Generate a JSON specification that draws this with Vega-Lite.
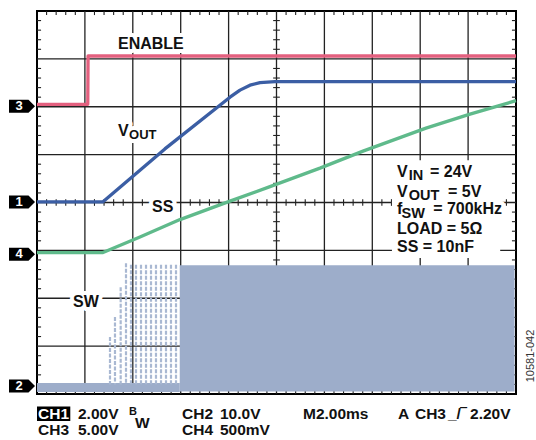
{
  "$schema": "https://vega.github.io/schema/vega-lite/v6.json",
  "width": 479,
  "height": 383,
  "autosize": {"type": "none"},
  "padding": {"left": 37, "top": 11, "right": 20, "bottom": 46},
  "background": "white",
  "config": {
    "view": {"stroke": "#000", "strokeWidth": 2},
    "axis": {"disable": true},
    "font": "Liberation Sans"
  },
  "datasets": {
    "vgrid": [{"x": 1}, {"x": 2}, {"x": 3}, {"x": 4}, {"x": 5}, {"x": 6}, {"x": 7}, {"x": 8}, {"x": 9}],
    "hgrid": [{"y": 1}, {"y": 2}, {"y": 3}, {"y": 4}, {"y": 5}, {"y": 6}, {"y": 7}],
    "xminor": [
      {"x": 0.2}, {"x": 0.4}, {"x": 0.6}, {"x": 0.8},
      {"x": 1.2}, {"x": 1.4}, {"x": 1.6}, {"x": 1.8},
      {"x": 2.2}, {"x": 2.4}, {"x": 2.6}, {"x": 2.8},
      {"x": 3.2}, {"x": 3.4}, {"x": 3.6}, {"x": 3.8},
      {"x": 4.2}, {"x": 4.4}, {"x": 4.6}, {"x": 4.8},
      {"x": 5.2}, {"x": 5.4}, {"x": 5.6}, {"x": 5.8},
      {"x": 6.2}, {"x": 6.4}, {"x": 6.6}, {"x": 6.8},
      {"x": 7.2}, {"x": 7.4}, {"x": 7.6}, {"x": 7.8},
      {"x": 8.2}, {"x": 8.4}, {"x": 8.6}, {"x": 8.8},
      {"x": 9.2}, {"x": 9.4}, {"x": 9.6}, {"x": 9.8}
    ],
    "yminor": [
      {"y": 0.2}, {"y": 0.4}, {"y": 0.6}, {"y": 0.8},
      {"y": 1.2}, {"y": 1.4}, {"y": 1.6}, {"y": 1.8},
      {"y": 2.2}, {"y": 2.4}, {"y": 2.6}, {"y": 2.8},
      {"y": 3.2}, {"y": 3.4}, {"y": 3.6}, {"y": 3.8},
      {"y": 4.2}, {"y": 4.4}, {"y": 4.6}, {"y": 4.8},
      {"y": 5.2}, {"y": 5.4}, {"y": 5.6}, {"y": 5.8},
      {"y": 6.2}, {"y": 6.4}, {"y": 6.6}, {"y": 6.8},
      {"y": 7.2}, {"y": 7.4}, {"y": 7.6}, {"y": 7.8}
    ],
    "swblocks": [
      {"x": 0.0, "x2": 2.98, "y": 0.04, "y2": 0.23},
      {"x": 2.98, "x2": 9.97, "y": 0.05, "y2": 2.69}
    ],
    "swlines": [
      {"x": 1.524, "y": 1.19}, {"x": 1.628, "y": 1.61}, {"x": 1.747, "y": 2.23},
      {"x": 1.858, "y": 2.73}, {"x": 1.962, "y": 2.70}, {"x": 2.067, "y": 2.70},
      {"x": 2.171, "y": 2.70}, {"x": 2.276, "y": 2.70}, {"x": 2.380, "y": 2.70},
      {"x": 2.484, "y": 2.70}, {"x": 2.589, "y": 2.70}, {"x": 2.693, "y": 2.70},
      {"x": 2.797, "y": 2.70}, {"x": 2.902, "y": 2.70}
    ],
    "traces": [
      {"ch": "ENABLE", "x": 0.0, "y": 6.05},
      {"ch": "ENABLE", "x": 1.06, "y": 6.05},
      {"ch": "ENABLE", "x": 1.066, "y": 7.06},
      {"ch": "ENABLE", "x": 10.0, "y": 7.06},
      {"ch": "VOUT", "x": 0.0, "y": 4.015},
      {"ch": "VOUT", "x": 1.378, "y": 4.015},
      {"ch": "VOUT", "x": 2.67, "y": 5.12},
      {"ch": "VOUT", "x": 4.029, "y": 6.2},
      {"ch": "VOUT", "x": 4.238, "y": 6.347},
      {"ch": "VOUT", "x": 4.447, "y": 6.451},
      {"ch": "VOUT", "x": 4.656, "y": 6.503},
      {"ch": "VOUT", "x": 4.969, "y": 6.524},
      {"ch": "VOUT", "x": 10.0, "y": 6.524},
      {"ch": "SS", "x": 0.0, "y": 2.954},
      {"ch": "SS", "x": 1.378, "y": 2.954},
      {"ch": "SS", "x": 2.15, "y": 3.278},
      {"ch": "SS", "x": 2.985, "y": 3.643},
      {"ch": "SS", "x": 4.029, "y": 4.029},
      {"ch": "SS", "x": 4.864, "y": 4.332},
      {"ch": "SS", "x": 5.908, "y": 4.718},
      {"ch": "SS", "x": 6.806, "y": 5.073},
      {"ch": "SS", "x": 8.121, "y": 5.553},
      {"ch": "SS", "x": 9.04, "y": 5.846},
      {"ch": "SS", "x": 10.0, "y": 6.127}
    ],
    "labels": [
      {"text": "ENABLE", "x": 1.691, "y": 7.203},
      {"text": "V", "x": 1.691, "y": 5.386},
      {"text": "SS", "x": 2.401, "y": 3.8},
      {"text": "SW", "x": 0.752, "y": 1.816},
      {"text": "V", "x": 7.516, "y": 4.524},
      {"text": "= 24V", "x": 8.205, "y": 4.524},
      {"text": "V", "x": 7.516, "y": 4.106},
      {"text": "= 5V", "x": 8.58, "y": 4.106},
      {"text": "f", "x": 7.516, "y": 3.77},
      {"text": "= 700kHz", "x": 8.27, "y": 3.77},
      {"text": "LOAD = 5Ω", "x": 7.516, "y": 3.34},
      {"text": "SS = 10nF", "x": 7.516, "y": 2.958}
    ],
    "subsplot": [
      {"text": "OUT", "x": 1.921, "y": 5.317}
    ],
    "subs": [
      {"text": "IN", "x": 7.76, "y": 4.46},
      {"text": "OUT", "x": 7.76, "y": 4.042},
      {"text": "SW", "x": 7.61, "y": 3.67}
    ],
    "bottom": [
      {"text": "2.00V", "x": 0.856, "y": -0.522},
      {"text": "CH2", "x": 3.027, "y": -0.522},
      {"text": "10.0V", "x": 3.82, "y": -0.522},
      {"text": "M2.00ms", "x": 5.553, "y": -0.522},
      {"text": "A", "x": 7.537, "y": -0.522},
      {"text": "CH3", "x": 7.891, "y": -0.522},
      {"text": "_/‾", "x": 8.58, "y": -0.522},
      {"text": "2.20V", "x": 9.04, "y": -0.522},
      {"text": "CH3", "x": 0.021, "y": -0.856},
      {"text": "5.00V", "x": 0.856, "y": -0.856},
      {"text": "CH4", "x": 3.027, "y": -0.856},
      {"text": "500mV", "x": 3.82, "y": -0.856},
      {"text": "W", "x": 2.046, "y": -0.71}
    ],
    "markers": [
      {"n": "3", "x": -0.313, "y": 6.01},
      {"n": "1", "x": -0.313, "y": 4.008},
      {"n": "4", "x": -0.313, "y": 2.92},
      {"n": "2", "x": -0.313, "y": 0.167}
    ]
  },
  "layer": [
    {
      "data": {"name": "vgrid"},
      "mark": {"type": "rule", "color": "#222", "strokeWidth": 1.3},
      "encoding": {
        "x": {"field": "x", "type": "quantitative", "scale": {"domain": [0, 10], "nice": false, "zero": false}},
        "y": {"datum": 0, "scale": {"domain": [0, 8], "nice": false, "zero": false}},
        "y2": {"datum": 8}
      }
    },
    {
      "data": {"name": "hgrid"},
      "mark": {"type": "rule", "color": "#222", "strokeWidth": 1.3},
      "encoding": {
        "y": {"field": "y", "type": "quantitative", "scale": {"domain": [0, 8], "nice": false, "zero": false}},
        "x": {"datum": 0, "scale": {"domain": [0, 10], "nice": false, "zero": false}},
        "x2": {"datum": 10}
      }
    },
    {
      "data": {"name": "xminor"},
      "mark": {"type": "rule", "color": "#222", "strokeWidth": 1.1},
      "encoding": {"x": {"field": "x", "type": "quantitative"}, "y": {"datum": 0}, "y2": {"datum": 0.085}}
    },
    {
      "data": {"name": "xminor"},
      "mark": {"type": "rule", "color": "#222", "strokeWidth": 1.1},
      "encoding": {"x": {"field": "x", "type": "quantitative"}, "y": {"datum": 7.915}, "y2": {"datum": 8}}
    },
    {
      "data": {"name": "xminor"},
      "mark": {"type": "rule", "color": "#222", "strokeWidth": 1.1},
      "encoding": {"x": {"field": "x", "type": "quantitative"}, "y": {"datum": 3.93}, "y2": {"datum": 4.07}}
    },
    {
      "data": {"name": "yminor"},
      "mark": {"type": "rule", "color": "#222", "strokeWidth": 1.1},
      "encoding": {"y": {"field": "y", "type": "quantitative"}, "x": {"datum": 0}, "x2": {"datum": 0.085}}
    },
    {
      "data": {"name": "yminor"},
      "mark": {"type": "rule", "color": "#222", "strokeWidth": 1.1},
      "encoding": {"y": {"field": "y", "type": "quantitative"}, "x": {"datum": 9.915}, "x2": {"datum": 10}}
    },
    {
      "data": {"name": "yminor"},
      "mark": {"type": "rule", "color": "#222", "strokeWidth": 1.1},
      "encoding": {"y": {"field": "y", "type": "quantitative"}, "x": {"datum": 4.93}, "x2": {"datum": 5.07}}
    },
    {
      "data": {"values": [{}]},
      "mark": {"type": "rect", "color": "white"},
      "encoding": {"x": {"datum": 7.41}, "x2": {"datum": 9.67}, "y": {"datum": 2.84}, "y2": {"datum": 4.885}}
    },
    {
      "data": {"name": "labels"},
      "mark": {"type": "text", "align": "left", "baseline": "alphabetic", "fontSize": 16, "fontWeight": "bold", "stroke": "white", "strokeWidth": 8, "strokeJoin": "round", "fill": "white"},
      "encoding": {"x": {"field": "x", "type": "quantitative"}, "y": {"field": "y", "type": "quantitative"}, "text": {"field": "text"}}
    },
    {
      "data": {"name": "subsplot"},
      "mark": {"type": "text", "align": "left", "baseline": "alphabetic", "fontSize": 13, "fontWeight": "bold", "stroke": "white", "strokeWidth": 8, "strokeJoin": "round", "fill": "white"},
      "encoding": {"x": {"field": "x", "type": "quantitative"}, "y": {"field": "y", "type": "quantitative"}, "text": {"field": "text"}}
    },
    {
      "data": {"name": "swblocks"},
      "mark": {"type": "rect", "color": "#9dadca"},
      "encoding": {"x": {"field": "x", "type": "quantitative"}, "x2": {"field": "x2"}, "y": {"field": "y", "type": "quantitative"}, "y2": {"field": "y2"}}
    },
    {
      "data": {"name": "swlines"},
      "mark": {"type": "rule", "color": "#a9b8d2", "strokeWidth": 2.2, "strokeDash": [4, 1.5]},
      "encoding": {"x": {"field": "x", "type": "quantitative"}, "y": {"field": "y", "type": "quantitative"}, "y2": {"datum": 0.2}}
    },
    {
      "data": {"name": "traces"},
      "mark": {"type": "line", "strokeWidth": 3.3, "strokeJoin": "round", "interpolate": "linear"},
      "encoding": {
        "x": {"field": "x", "type": "quantitative"},
        "y": {"field": "y", "type": "quantitative"},
        "color": {"field": "ch", "type": "nominal", "legend": null, "scale": {"domain": ["ENABLE", "VOUT", "SS"], "range": ["#e3607f", "#3b5ea4", "#5fba8b"]}},
        "order": {"field": "x", "type": "quantitative"}
      }
    },
    {
      "data": {"name": "labels"},
      "mark": {"type": "text", "align": "left", "baseline": "alphabetic", "fontSize": 16, "fontWeight": "bold", "color": "#111"},
      "encoding": {"x": {"field": "x", "type": "quantitative"}, "y": {"field": "y", "type": "quantitative"}, "text": {"field": "text"}}
    },
    {
      "data": {"name": "subsplot"},
      "mark": {"type": "text", "align": "left", "baseline": "alphabetic", "fontSize": 13, "fontWeight": "bold", "color": "#111"},
      "encoding": {"x": {"field": "x", "type": "quantitative"}, "y": {"field": "y", "type": "quantitative"}, "text": {"field": "text"}}
    },
    {
      "data": {"name": "subs"},
      "mark": {"type": "text", "align": "left", "baseline": "alphabetic", "fontSize": 14.5, "fontWeight": "bold", "color": "#111"},
      "encoding": {"x": {"field": "x", "type": "quantitative"}, "y": {"field": "y", "type": "quantitative"}, "text": {"field": "text"}}
    },
    {
      "data": {"values": [{}]},
      "mark": {"type": "rect", "color": "#000"},
      "encoding": {"x": {"datum": 0}, "x2": {"datum": 0.695}, "y": {"datum": -0.261}, "y2": {"datum": -0.564}}
    },
    {
      "data": {"values": [{"text": "CH1", "x": 0.021, "y": -0.522}]},
      "mark": {"type": "text", "align": "left", "baseline": "alphabetic", "fontSize": 15.5, "fontWeight": "bold", "color": "white"},
      "encoding": {"x": {"field": "x", "type": "quantitative"}, "y": {"field": "y", "type": "quantitative"}, "text": {"field": "text"}}
    },
    {
      "data": {"name": "bottom"},
      "mark": {"type": "text", "align": "left", "baseline": "alphabetic", "fontSize": 15.5, "fontWeight": "bold", "color": "#111"},
      "encoding": {"x": {"field": "x", "type": "quantitative"}, "y": {"field": "y", "type": "quantitative"}, "text": {"field": "text"}}
    },
    {
      "data": {"values": [{"text": "B", "x": 1.921, "y": -0.438}]},
      "mark": {"type": "text", "align": "left", "baseline": "alphabetic", "fontSize": 11, "fontWeight": "bold", "color": "#111"},
      "encoding": {"x": {"field": "x", "type": "quantitative"}, "y": {"field": "y", "type": "quantitative"}, "text": {"field": "text"}}
    },
    {
      "data": {"name": "markers"},
      "mark": {"type": "point", "shape": "M-2,-1L1,-1L2,0L1,1L-2,1Z", "size": 169, "filled": true, "color": "#000", "opacity": 1},
      "encoding": {"x": {"field": "x", "type": "quantitative"}, "y": {"field": "y", "type": "quantitative"}}
    },
    {
      "data": {"name": "markers"},
      "mark": {"type": "text", "align": "center", "baseline": "middle", "fontSize": 13, "fontWeight": "bold", "color": "white", "dx": -3},
      "encoding": {"x": {"field": "x", "type": "quantitative"}, "y": {"field": "y", "type": "quantitative"}, "text": {"field": "n"}}
    },
    {
      "data": {"values": [{"text": "10581-042", "x": 10.313, "y": 0.793}]},
      "mark": {"type": "text", "align": "center", "baseline": "middle", "angle": 270, "fontSize": 11, "color": "#333"},
      "encoding": {"x": {"field": "x", "type": "quantitative"}, "y": {"field": "y", "type": "quantitative"}, "text": {"field": "text"}}
    }
  ]
}
